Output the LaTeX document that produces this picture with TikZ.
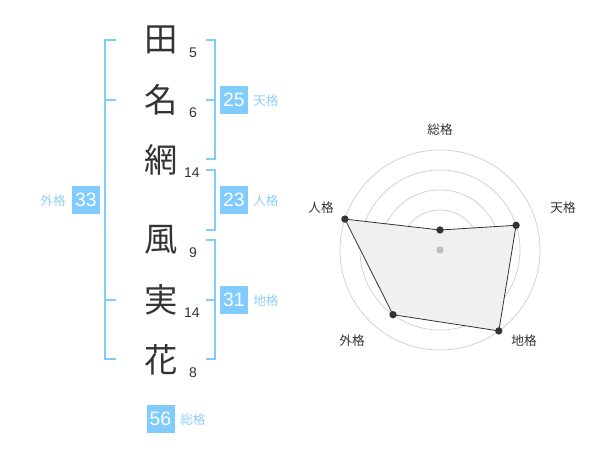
\documentclass[tikz,border=0pt]{standalone}
\usepackage{fontspec}
\setmainfont{Liberation Sans}
\newfontfamily\jp{Noto Sans CJK JP}
\definecolor{bl}{HTML}{80CCFF}
\definecolor{lbl}{HTML}{8FD0F5}
\definecolor{dk}{HTML}{333333}
\begin{document}
\begin{tikzpicture}[x=0.75pt,y=-0.75pt,
  kanji/.style={font=\jp\fontsize{25}{25}\selectfont, text=dk, inner sep=0},
  strk/.style={font=\fontsize{10.5}{10.5}\selectfont, text=dk, inner sep=0},
  numbox/.style={fill=bl, text=white, font=\fontsize{14.5}{14.5}\selectfont, minimum width=21pt, minimum height=21pt, inner sep=0},
  lab/.style={font=\jp\fontsize{9.5}{9.5}\selectfont, text=lbl, inner sep=0},
  rlab/.style={font=\jp\fontsize{9.5}{9.5}\selectfont, text=dk, inner sep=0},
  brk/.style={draw=bl, line width=1.5pt},
  ring/.style={draw=black!20, line width=0.5pt},
  dot/.style={circle, fill=dk, inner sep=0, minimum size=5.5pt}]
\useasboundingbox (0,0) rectangle (600,470);
% name characters
\node[kanji] (k1) at (161,40) {田};
\node[kanji] (k2) at (161,100) {名};
\node[kanji] (k3) at (161,160) {網};
\node[kanji] (k4) at (161,240) {風};
\node[kanji] (k5) at (161,300) {実};
\node[kanji] (k6) at (161,360) {花};
% stroke counts
\node[strk] (s1) at (193,53) {5};
\node[strk] (s2) at (193,113) {6};
\node[strk] (s3) at (192,173) {14};
\node[strk] (s4) at (193,253) {9};
\node[strk] (s5) at (192,313) {14};
\node[strk] (s6) at (193,373) {8};
% brackets
\draw[brk] (116,40) -- (105,40) -- (105,359) -- (116,359);
\draw[brk] (105,100) -- (116,100);
\draw[brk] (105,300) -- (116,300);
\draw[brk] (206,40) -- (214.5,40) -- (214.5,159) -- (206,159);
\draw[brk] (206,100) -- (214.5,100);
\draw[brk] (206,170) -- (214.5,170) -- (214.5,230) -- (206,230);
\draw[brk] (206,240) -- (214.5,240) -- (214.5,359) -- (206,359);
\draw[brk] (206,300) -- (214.5,300);
% score boxes
\node[numbox] (ten) at (234,100) {25};
\node[numbox] (jin) at (234,200) {23};
\node[numbox] (chi) at (234,300) {31};
\node[numbox] (gai) at (86,200) {33};
\node[numbox] (sou) at (160.5,419) {56};
\node[lab, anchor=west] (tenl) at (253,101) {天格};
\node[lab, anchor=west] (jinl) at (253,201) {人格};
\node[lab, anchor=west] (chil) at (253,301) {地格};
\node[lab, anchor=east] (gail) at (66,201) {外格};
\node[lab, anchor=west] (soul) at (180,420) {総格};
% radar chart
\coordinate (c) at (440,250);
\foreach \r in {20,40,60,80,100}
  \draw[ring] (c) circle[radius=\r*0.75pt];
\coordinate (p1) at (440,230);
\coordinate (p2) at (516.1,225.3);
\coordinate (p3) at (498.8,330.9);
\coordinate (p4) at (393.0,314.7);
\coordinate (p5) at (344.9,219.1);
\draw[fill=black!6, draw=dk, line width=0.6pt] (p1) -- (p2) -- (p3) -- (p4) -- (p5) -- cycle;
\node[circle, fill=black!25, inner sep=0, minimum size=5.5pt] (cd) at (c) {};
\foreach \p in {p1,p2,p3,p4,p5}
  \node[dot] at (\p) {};
\node[rlab] (r1) at (440,130) {総格};
\node[rlab] (r2) at (563,208) {天格};
\node[rlab] (r3) at (524,341) {地格};
\node[rlab] (r4) at (352,341) {外格};
\node[rlab] (r5) at (321,208) {人格};
\end{tikzpicture}
\end{document}
